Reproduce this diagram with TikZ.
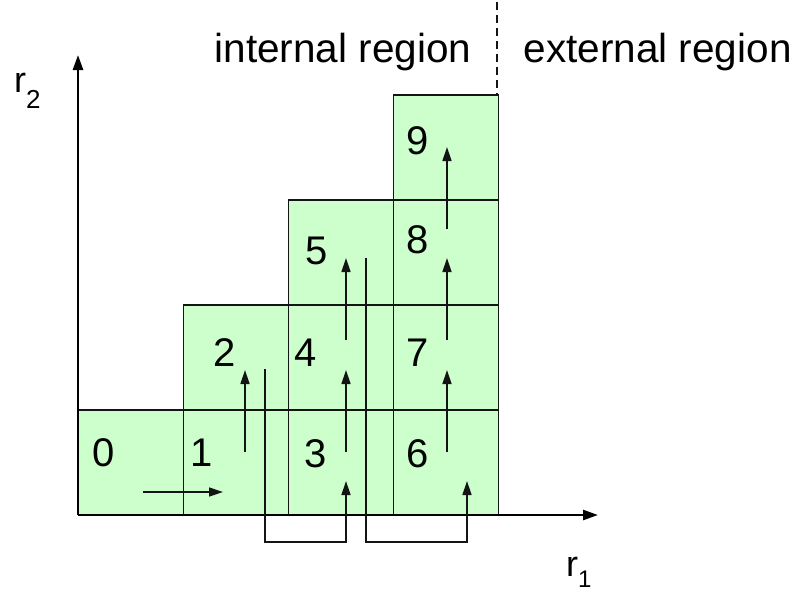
\documentclass[tikz,border=0pt]{standalone}
\usepackage{fontspec}
\setmainfont{Liberation Sans}
\usetikzlibrary{arrows.meta}
\definecolor{cellgreen}{RGB}{204,255,204}
\definecolor{inkline}{RGB}{20,20,20}
\tikzset{
  cell/.style={draw=inkline, line width=1.5pt, fill=cellgreen, minimum width=105pt,
               minimum height=105pt, inner sep=0pt, outer sep=0pt},
  num/.style={font=\fontsize{40}{48}\selectfont, inner sep=0pt},
  regionlabel/.style={font=\fontsize{40.5}{48}\selectfont, inner sep=0pt, anchor=base west},
  flow/.style={draw=inkline, line width=1.5pt, -{Triangle[length=14pt,width=9pt]}},
  axis/.style={draw=black, line width=2.6pt, -{Triangle[length=15pt,width=10pt]}},
}
\begin{document}
\begin{tikzpicture}[x=1pt,y=-1pt]
\useasboundingbox (0,0) rectangle (797,592);

% cells of the triangular grid (centres)
\node[cell] (c0) at (131,462.5) {};
\node[cell] (c1) at (236,462.5) {};
\node[cell] (c2) at (236,357.5) {};
\node[cell] (c3) at (341,462.5) {};
\node[cell] (c4) at (341,357.5) {};
\node[cell] (c5) at (341,252.5) {};
\node[cell] (c6) at (446,462.5) {};
\node[cell] (c7) at (446,357.5) {};
\node[cell] (c8) at (446,252.5) {};
\node[cell] (c9) at (446,147.5) {};

% cell numbers
\node[num] (n0) at (104,453) {0};
\node[num] (n1) at (202,453) {1};
\node[num] (n2) at (225,352.5) {2};
\node[num] (n3) at (316,454) {3};
\node[num] (n4) at (306,353) {4};
\node[num] (n5) at (317,251) {5};
\node[num] (n6) at (418,454) {6};
\node[num] (n7) at (418,353) {7};
\node[num] (n8) at (418,240) {8};
\node[num] (n9) at (418,141) {9};

% axes
\coordinate (origin) at (78,515);
\coordinate (ytip) at (78,55);
\coordinate (xtip) at (598,515);
\draw[axis] (origin) -- (ytip);
\draw[axis] (origin) -- (xtip);
\node[inner sep=0pt, anchor=base west] (r2) at (14,92)
  {\fontsize{36}{40}\selectfont r\raisebox{-16pt}{\fontsize{26}{30}\selectfont 2}};
\node[inner sep=0pt, anchor=base west] (r1) at (566,576)
  {\fontsize{36}{40}\selectfont r\raisebox{-11pt}{\fontsize{24}{30}\selectfont 1}};

% boundary between the two regions
\coordinate (splittop) at (497,2);
\coordinate (splitbot) at (497,95);
\draw[inkline, line width=1.2pt, dash pattern=on 8pt off 5pt] (splittop) -- (splitbot);
\node[regionlabel] (internal) at (214.5,62.5) {internal region};
\node[regionlabel] (external) at (523.5,62.5) {external region};

% traversal order
\coordinate (a01s) at (143,492); \coordinate (a01e) at (223,492);
\coordinate (a12s) at (245,452); \coordinate (a12e) at (245,370);
\coordinate (a34s) at (346,452); \coordinate (a34e) at (346,370);
\coordinate (a45s) at (346,340); \coordinate (a45e) at (346,258);
\coordinate (a67s) at (447,452); \coordinate (a67e) at (447,370);
\coordinate (a78s) at (447,340); \coordinate (a78e) at (447,258);
\coordinate (a89s) at (447,229); \coordinate (a89e) at (447,147);
\coordinate (b23s) at (265,369); \coordinate (b23e) at (346,481);
\coordinate (b56s) at (366,258); \coordinate (b56e) at (467,481);

\draw[flow] (a01s) -- (a01e);
\draw[flow] (a12s) -- (a12e);
\draw[flow] (a34s) -- (a34e);
\draw[flow] (a45s) -- (a45e);
\draw[flow] (a67s) -- (a67e);
\draw[flow] (a78s) -- (a78e);
\draw[flow] (a89s) -- (a89e);
\draw[flow] (b23s) -- (265,542) -- (346,542) -- (b23e);
\draw[flow] (b56s) -- (366,542) -- (467,542) -- (b56e);
\end{tikzpicture}
\end{document}
